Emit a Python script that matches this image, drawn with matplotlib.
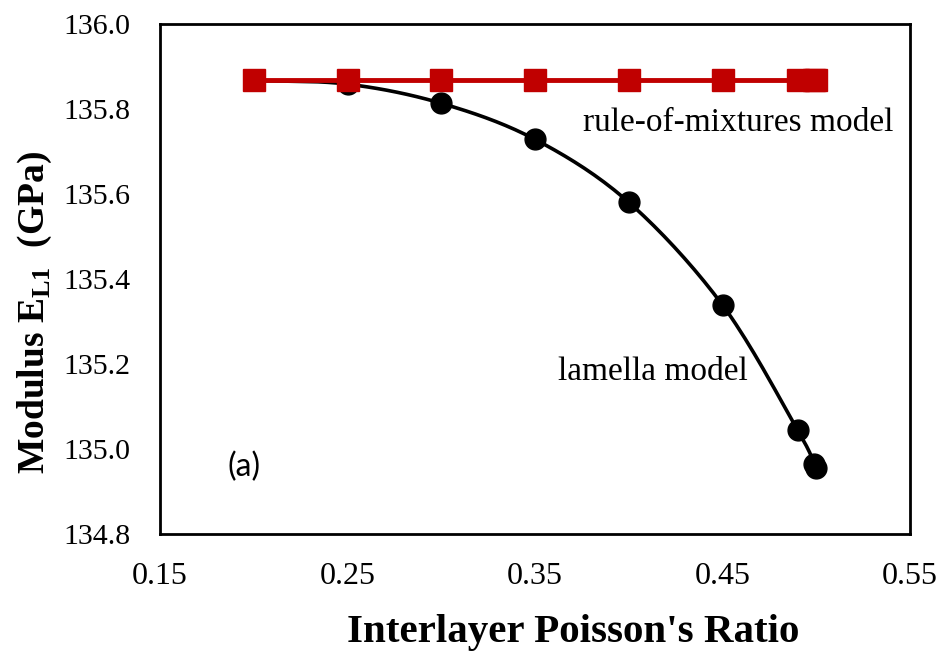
import numpy as np
import matplotlib
matplotlib.use("Agg")
import matplotlib.pyplot as plt

# data
nu = [0.20, 0.25, 0.30, 0.35, 0.40, 0.45, 0.49, 0.499, 0.50]
lamella = [135.868, 135.859, 135.814, 135.729, 135.581, 135.339, 135.045, 134.965, 134.955]
rom = [135.868, 135.868, 135.868, 135.868, 135.868, 135.868, 135.868, 135.868, 135.868]


def smooth(x, y, n=20):
    # Catmull-Rom style smoothing, like an Excel smoothed line
    x = np.asarray(x, float)
    y = np.asarray(y, float)
    px = np.concatenate([[2 * x[0] - x[1]], x, [2 * x[-1] - x[-2]]])
    py = np.concatenate([[2 * y[0] - y[1]], y, [2 * y[-1] - y[-2]]])
    xs, ys = [], []
    t = np.linspace(0, 1, n)
    for i in range(1, len(px) - 2):
        for p, out in ((px, xs), (py, ys)):
            p0, p1, p2, p3 = p[i - 1], p[i], p[i + 1], p[i + 2]
            out.extend(0.5 * (2 * p1 + (-p0 + p2) * t
                              + (2 * p0 - 5 * p1 + 4 * p2 - p3) * t ** 2
                              + (-p0 + 3 * p1 - 3 * p2 + p3) * t ** 3))
    return xs, ys


serif = ["Liberation Serif", "DejaVu Serif"]

fig = plt.figure(figsize=(9.45, 6.56), dpi=100)
ax = fig.add_axes([0.1693, 0.186, 0.7937, 0.777])

sx, sy = smooth(nu, lamella)
ax.plot(sx, sy, color="black", lw=2.6, zorder=2)
ax.plot(nu, lamella, "o", color="black", ms=15, zorder=3)
ax.plot(nu, rom, "-s", color="#C00000", lw=3.5, ms=16, zorder=4)

ax.set_xlim(0.15, 0.55)
ax.set_ylim(134.8, 136.0)
ax.set_xticks([0.15, 0.25, 0.35, 0.45, 0.55])
ax.set_yticks(np.arange(134.8, 136.01, 0.2))
ax.xaxis.set_major_formatter(plt.FormatStrFormatter("%.2f"))
ax.yaxis.set_major_formatter(plt.FormatStrFormatter("%.1f"))
ax.tick_params(length=0)
ax.tick_params(axis="x", pad=20, labelsize=23)
ax.tick_params(axis="y", pad=21, labelsize=21.5)
for lab in ax.get_xticklabels() + ax.get_yticklabels():
    lab.set_family(serif)
for sp in ax.spines.values():
    sp.set_linewidth(2)

ax.set_xlabel("Interlayer Poisson's Ratio", family=serif, fontsize=29.5,
              fontweight="bold")
ax.set_ylabel(r"Modulus E$_\mathregular{L1}$  (GPa)", family=serif, fontsize=27,
              fontweight="bold")
ax.xaxis.set_label_coords(0.551, -0.194)
ax.yaxis.set_label_coords(-0.167, 0.435)
ax.xaxis.label.set_va("center")
ax.yaxis.label.set_va("center")

ax.text(0.3756, 135.769, "rule-of-mixtures model", family=serif, fontsize=24,
        ha="left", va="center")
ax.text(0.3623, 135.181, "lamella model", family=serif, fontsize=24,
        ha="left", va="center")
ax.text(0.186, 134.958, "(a)", family=["Lato", "DejaVu Sans"], fontsize=23,
        ha="left", va="center")

fig.savefig("out.png", dpi=100)
